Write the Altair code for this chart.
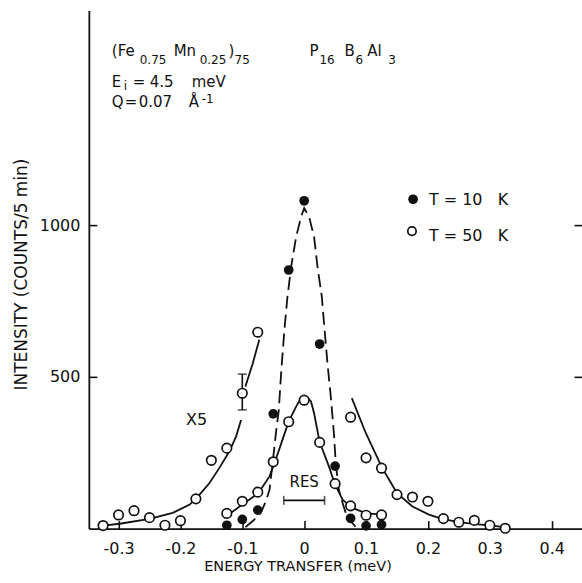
import altair as alt
import pandas as pd

# ---------------- data ----------------
energy = [-0.125, -0.1, -0.075, -0.05, -0.025, 0.0, 0.025, 0.05, 0.075, 0.1, 0.125]
counts_10k = [11, 30, 61, 378, 852, 1080, 608, 206, 34, 9, 13]
counts_50k = [50, 90, 120, 220, 352, 423, 284, 148, 75, 44, 45]

x5_left_energy = [-0.325, -0.3, -0.275, -0.25, -0.225, -0.2, -0.175, -0.15, -0.125, -0.1, -0.075]
x5_left_counts = [10, 45, 59, 36, 11, 26, 98, 225, 265, 446, 647]
x5_right_energy = [0.075, 0.1, 0.125, 0.15, 0.175, 0.2, 0.225, 0.25, 0.275, 0.3, 0.325]
x5_right_counts = [367, 233, 199, 112, 104, 90, 33, 21, 27, 11, 1]

# dashed fit, T = 10 K
fit10_energy = [-0.095, -0.083, -0.07, -0.062, -0.056, -0.051, -0.045, -0.041, -0.037, -0.032,
                -0.027, -0.021, -0.013, -0.005, 0.0, 0.008, 0.016, 0.0215, 0.0285, 0.033,
                0.0376, 0.043, 0.048, 0.051, 0.056, 0.062, 0.067, 0.075, 0.083]
fit10_counts = [5, 25, 52, 90, 128, 216, 326, 391, 520, 654,
                764, 863, 961, 1027, 1056, 1027, 961, 863, 764, 654,
                545, 435, 315, 216, 128, 85, 52, 25, 6]

# solid fit, T = 50 K
fit50_energy = [-0.13, -0.1, -0.074, -0.056, -0.047, -0.035, -0.025, -0.013, -0.005, 0.0,
                0.006, 0.011, 0.016, 0.025, 0.04, 0.0495, 0.062, 0.078, 0.0995, 0.124]
fit50_counts = [35, 79, 117, 172, 221, 293, 353, 402, 430, 433,
                430, 419, 380, 285, 205, 147, 95, 68, 51, 46]

# solid fit of the x5 wings
fitx5_left_a_energy = [-0.325, -0.298, -0.25, -0.2125, -0.185, -0.169, -0.153, -0.137, -0.121, -0.11, -0.102]
fitx5_left_a_counts = [10, 16, 32, 52, 79, 112, 150, 200, 254, 304, 358]
fitx5_left_b_energy = [-0.095, -0.083, -0.0726]
fitx5_left_b_counts = [468, 545, 622]
fitx5_right_energy = [0.077, 0.0995, 0.126, 0.15, 0.175, 0.2016, 0.223, 0.25, 0.277, 0.304, 0.325]
fitx5_right_counts = [430, 315, 200, 117, 73, 46, 32, 21, 15, 10, 4]

err_energy = [-0.1]
err_lo = [391]
err_hi = [509]

res_lo = [-0.033]
res_hi = [0.033]
res_level = [93]

x_ticks = [-0.3, -0.2, -0.1, 0.0, 0.1, 0.2, 0.3, 0.4]
y_ticks = [500, 1000]

legend_labels = ["T = 10\u00a0\u00a0 K", "T = 50\u00a0\u00a0 K"]

# ---------------- tables ----------------
pts = pd.DataFrame({"e": energy, "c10": counts_10k, "c50": counts_50k})
x5 = pd.DataFrame({"e": x5_left_energy + x5_right_energy,
                   "c": x5_left_counts + x5_right_counts})
fit10 = pd.DataFrame({"e": fit10_energy, "c": fit10_counts})
fit50 = pd.DataFrame({"e": fit50_energy, "c": fit50_counts})
fitx5 = pd.DataFrame({
    "e": fitx5_left_a_energy + fitx5_left_b_energy + fitx5_right_energy,
    "c": fitx5_left_a_counts + fitx5_left_b_counts + fitx5_right_counts,
    "seg": ["a"] * len(fitx5_left_a_energy) + ["b"] * len(fitx5_left_b_energy)
           + ["r"] * len(fitx5_right_energy),
})
err = pd.DataFrame({"e": err_energy, "lo": err_lo, "hi": err_hi})
err_caps = pd.DataFrame({"e": err_energy * 2, "c": err_lo + err_hi})
res = pd.DataFrame({"lo": res_lo, "hi": res_hi, "c": res_level})
res_caps = pd.DataFrame({"e": res_lo + res_hi, "c": res_level * 2})

FONT = "DejaVu Sans"
INK = "#111111"
LW = 1.8
XDOM = [-0.348, 0.449]
YDOM = [0, 1707]
xs = alt.Scale(domain=XDOM, nice=False, zero=False)
ys = alt.Scale(domain=YDOM, nice=False, zero=False)

label_expr_x = ("datum.value == 0 ? '0' : (datum.value < 0 ? '-' + format(-datum.value, '.1f') "
                ": format(datum.value, '.1f'))")

main_x = alt.Axis(orient="bottom", values=x_ticks, ticks=False, domain=True, domainColor=INK,
                  domainWidth=1.8, labelFont=FONT, labelFontSize=16, labelColor=INK,
                  labelPadding=12, labelExpr=label_expr_x, grid=False,
                  title="ENERGY TRANSFER (meV)", titleFont=FONT, titleFontSize=14.5,
                  titleFontWeight="normal", titleColor=INK, titleX=209, titleY=38,
                  titleBaseline="middle")
main_y = alt.Axis(orient="left", values=y_ticks, ticks=False, domain=True, domainColor=INK,
                  domainWidth=1.8, labelFont=FONT, labelFontSize=16, labelColor=INK,
                  labelPadding=9, format="d", grid=False,
                  title="INTENSITY (COUNTS/5 min)", titleFont=FONT, titleFontSize=17,
                  titleFontWeight="normal", titleColor=INK, titleX=-67, titleY=264,
                  titleBaseline="middle")
tick_x = alt.Axis(orient="bottom", values=x_ticks, ticks=True, tickSize=8, tickWidth=1.6,
                  tickColor=INK, labels=False, domain=False, offset=-8, grid=False, title=None)
tick_y = alt.Axis(orient="left", values=y_ticks, ticks=True, tickSize=8, tickWidth=1.6,
                  tickColor=INK, labels=False, domain=False, offset=-8, grid=False, title=None)
tick_yr = alt.Axis(orient="right", values=y_ticks, ticks=True, tickSize=8, tickWidth=1.6,
                   tickColor=INK, labels=False, domain=False, offset=-8, grid=False, title=None)


def X(field, axis=None):
    return alt.X(field, type="quantitative", scale=xs, axis=axis)


def Y(field, axis=None):
    return alt.Y(field, type="quantitative", scale=ys, axis=axis)


dashed = alt.Chart(fit10).mark_line(color=INK, strokeWidth=LW, strokeDash=[13, 6]).encode(
    x=X("e", main_x), y=Y("c", main_y), order="e:Q")
solid50 = alt.Chart(fit50).mark_line(color=INK, strokeWidth=LW).encode(
    x=X("e", tick_x), y=Y("c", tick_y), order="e:Q")
solidx5 = alt.Chart(fitx5).mark_line(color=INK, strokeWidth=LW).encode(
    x=X("e"), y=Y("c", tick_yr), detail="seg:N", order="e:Q")

err_rule = alt.Chart(err).mark_rule(color=INK, strokeWidth=1.6).encode(
    x=X("e"), y=Y("lo"), y2="hi")
err_cap = alt.Chart(err_caps).mark_tick(orient="horizontal", color=INK, size=9, thickness=1.6).encode(
    x=X("e"), y=Y("c"))
res_rule = alt.Chart(res).mark_rule(color=INK, strokeWidth=1.6).encode(
    x=X("lo"), x2="hi", y=Y("c"))
res_cap = alt.Chart(res_caps).mark_tick(orient="vertical", color=INK, size=9, thickness=1.6).encode(
    x=X("e"), y=Y("c"))

filled10 = alt.Chart(pts).mark_circle(color=INK, size=95, opacity=1).encode(
    x=X("e"), y=Y("c10"))
open50 = alt.Chart(pts).mark_circle(fill="white", stroke=INK, strokeWidth=1.7, size=90,
                                    opacity=1, fillOpacity=1).encode(x=X("e"), y=Y("c50"))
openx5 = alt.Chart(x5).mark_circle(fill="white", stroke=INK, strokeWidth=1.7, size=90,
                                   opacity=1, fillOpacity=1).encode(x=X("e"), y=Y("c"))

# legend (placed in data coordinates)
leg_f = alt.Chart(pd.DataFrame({"e": [0.176], "c": [1085]})).mark_circle(
    color=INK, size=95, opacity=1).encode(x=X("e"), y=Y("c"))
leg_o = alt.Chart(pd.DataFrame({"e": [0.1742], "c": [980]})).mark_circle(
    fill="white", stroke=INK, strokeWidth=1.7, size=70, opacity=1, fillOpacity=1).encode(
    x=X("e"), y=Y("c"))
leg_txt = alt.Chart(pd.DataFrame({"e": [0.2016, 0.2016], "c": [1084, 964], "t": legend_labels})
                    ).mark_text(font=FONT, fontSize=16, color=INK, align="left",
                                baseline="middle").encode(x=X("e"), y=Y("c"), text="t:N")

x5_txt = alt.Chart(pd.DataFrame({"e": [-0.174], "c": [358], "t": ["X5"]})).mark_text(
    font=FONT, fontSize=16, color=INK, align="center", baseline="middle").encode(
    x=X("e"), y=Y("c"), text="t:N")
res_txt = alt.Chart(pd.DataFrame({"e": [0.0], "c": [155], "t": ["RES"]})).mark_text(
    font=FONT, fontSize=15, color=INK, align="center", baseline="middle").encode(
    x=X("e"), y=Y("c"), text="t:N")

# header text (pixel positions inside plot area)
head_main = pd.DataFrame({
    "t": ["(Fe", "Mn", ")", "P", "B", "Al", "E", "=", "4.5", "meV", "Q", "=", "0.07", "Å"],
    "px": [23, 85, 140, 221, 256, 279, 23, 44, 61, 103, 23, 36, 50, 100],
    "py": [46, 46, 46, 46, 46, 46, 77, 77, 77, 77, 97, 97, 97, 97],
})
head_small = pd.DataFrame({
    "t": ["0.75", "0.25", "75", "16", "6", "3", "i", "-1"],
    "px": [51, 111, 146, 231, 267, 300, 35, 113],
    "py": [54, 54, 54, 54, 54, 54, 80, 93],
})
hm = alt.Chart(head_main).mark_text(font=FONT, fontSize=15, color=INK, align="left",
                                    baseline="alphabetic").encode(
    x=alt.X("px:Q", scale=None, axis=None), y=alt.Y("py:Q", scale=None, axis=None), text="t:N")
hs = alt.Chart(head_small).mark_text(font=FONT, fontSize=12, color=INK, align="left",
                                     baseline="alphabetic").encode(
    x=alt.X("px:Q", scale=None, axis=None), y=alt.Y("py:Q", scale=None, axis=None), text="t:N")

chart = alt.layer(
    dashed, solid50, solidx5, err_rule, err_cap, res_rule, res_cap,
    filled10, open50, openx5, leg_f, leg_o, leg_txt, x5_txt, res_txt, hm, hs,
).resolve_axis(x="independent", y="independent").properties(
    width=494, height=519,
    autosize=alt.AutoSizeParams(type="none"),
    padding={"left": 89, "top": 10, "right": 0, "bottom": 54},
    background="white",
).configure_view(stroke=None)

chart.save("out.html", embed_options={"renderer": "svg", "actions": False})
